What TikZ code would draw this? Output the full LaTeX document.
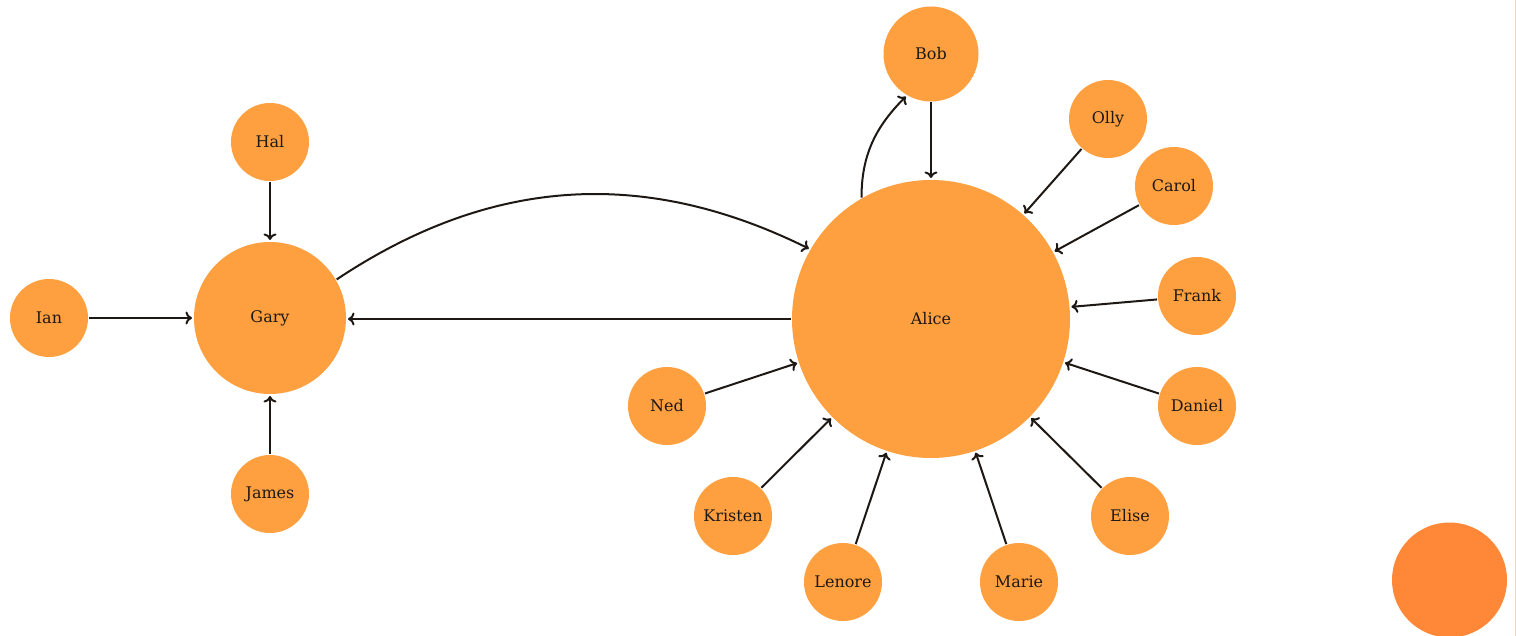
\documentclass[tikz,border=0pt]{standalone}
\usepackage{fontspec}
\setmainfont{DejaVu Serif}
\usetikzlibrary{arrows.meta}
\definecolor{nodeorange}{RGB}{255,160,64}
\definecolor{cornerorange}{RGB}{255,136,56}
\definecolor{edgepink}{RGB}{248,208,192}
\definecolor{inkdark}{RGB}{30,24,20}
\begin{document}
\begin{tikzpicture}[x=1pt,y=1pt,
  person/.style={circle, fill=nodeorange, inner sep=0pt, outer sep=0pt, minimum size=78pt,
    font=\fontsize{16}{19}\selectfont, text=inkdark},
  hub/.style={person, minimum size=#1},
  link/.style={-{To[length=6.5pt,width=13pt]}, line width=2pt, draw=inkdark, shorten >=2pt, shorten <=1pt}]
\useasboundingbox (0,0) rectangle (1516,-636);
% nodes
\node[hub=278pt] (Alice) at (931,-319) {Alice};
\node[hub=152pt] (Gary) at (270,-318) {Gary};
\node[hub=95pt] (Bob) at (931,-54) {Bob};
\node[person] (Olly) at (1108,-119) {Olly};
\node[person] (Carol) at (1174,-186) {Carol};
\node[person] (Frank) at (1197,-296) {Frank};
\node[person] (Daniel) at (1197,-406) {Daniel};
\node[person] (Elise) at (1130,-516) {Elise};
\node[person] (Marie) at (1019,-582) {Marie};
\node[person] (Lenore) at (843,-582) {Lenore};
\node[person] (Kristen) at (733,-516) {Kristen};
\node[person] (Ned) at (667,-406) {Ned};
\node[person] (Hal) at (270,-142) {Hal};
\node[person] (Ian) at (49,-318) {Ian};
\node[person] (James) at (270,-494) {James};
% decoration
\fill[cornerorange] (1449.5,-580) circle (57.5pt);
\draw[edgepink, line width=1pt] (1515,0) -- (1515,-636);
% edges
\draw[link] (Hal) -- (Gary);
\draw[link] (Ian) -- (Gary);
\draw[link] (James) -- (Gary);
\draw[link] (Alice.west) -- (Gary.east |- Alice.west);
\draw[link] (Gary.30) to[bend left=30] (Alice.150);
\draw[link] (Alice.120) to[out=90,in=225] (Bob.240);
\draw[link] (Bob) -- (Alice);
\draw[link] (Olly) -- (Alice);
\draw[link] (Carol) -- (Alice);
\draw[link] (Frank) -- (Alice);
\draw[link] (Daniel) -- (Alice);
\draw[link] (Elise) -- (Alice);
\draw[link] (Marie) -- (Alice);
\draw[link] (Lenore) -- (Alice);
\draw[link] (Kristen) -- (Alice);
\draw[link] (Ned) -- (Alice);
\end{tikzpicture}
\end{document}
